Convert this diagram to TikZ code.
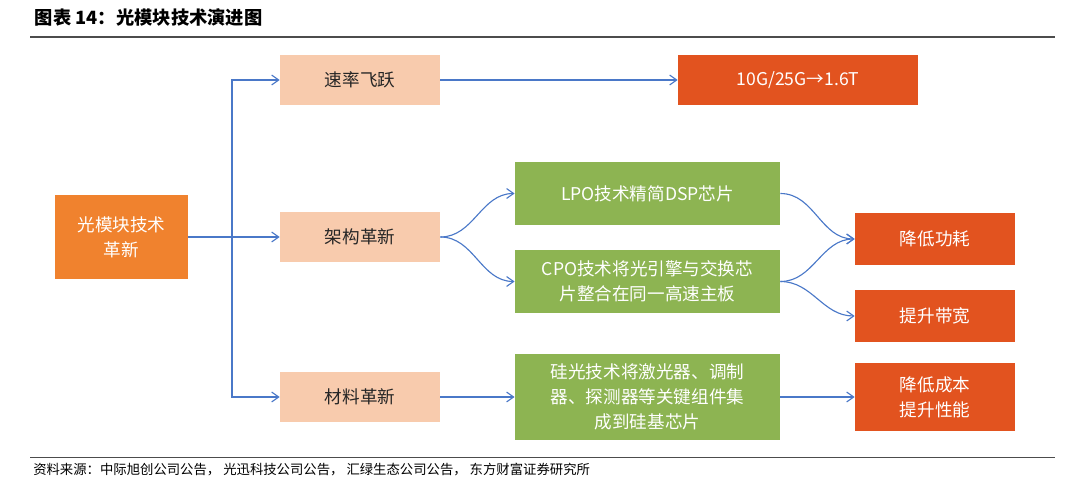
\documentclass[tikz,border=0pt]{standalone}
\usepackage{fontspec}
\setmainfont{Noto Sans CJK SC}
\usetikzlibrary{positioning,arrows.meta}
\definecolor{orangeA}{HTML}{F0822E}
\definecolor{peach}{HTML}{F8CBAD}
\definecolor{redA}{HTML}{E2531F}
\definecolor{greenA}{HTML}{8DB452}
\definecolor{blueA}{HTML}{4A78C8}
\begin{document}
\begin{tikzpicture}[x=0.025cm,y=-0.025cm,
    box/.style={rectangle, minimum width=4cm, minimum height=1.25cm, align=center, font=\fontsize{12.5}{18}\selectfont},
    root/.style={box, fill=orangeA, text=white, minimum width=3.33cm, minimum height=2.08cm},
    stage/.style={box, fill=peach, text=black!85},
    goal/.style={box, fill=redA, text=white},
    tech/.style={box, fill=greenA, text=white, minimum width=6.63cm, minimum height=1.58cm},
    arrow/.style={-{Straight Barb[length=5pt,width=7pt]}, draw=blueA, thick}
]
    \useasboundingbox (0,0) rectangle (1080,491);
    % title and rules
    \node[anchor=west, font=\bfseries\fontsize{13}{15}\selectfont] (title) at (30,18) {图表 14：光模块技术演进图};
    \draw[black!70, line width=0.8pt] (30,37) -- (1055,37);
    \draw[black!70, line width=0.6pt] (30,457) -- (1055,457);
    \node[anchor=west, font=\fontsize{9.5}{11}\selectfont, inner xsep=0pt] (source) at (33,470) {资料来源：中际旭创公司公告，\ 光迅科技公司公告，\ 汇绿生态公司公告，\ 东方财富证券研究所};

    \node[root] (root) at (121.5,237) {光模块技术\\革新};
    \node[stage] (speed) at (360,80) {速率飞跃};
    \node[stage] (arch) at (360,237) {架构革新};
    \node[stage] (mat) at (360,397) {材料革新};
    \node[goal, minimum width=6cm] (rate) at (798,80) {10G/25G→1.6T};
    \node[tech] (lpo) at (647.5,193.5) {LPO技术精简DSP芯片};
    \node[tech] (cpo) at (647.5,281.5) {CPO技术将光引擎与交换芯\\片整合在同一高速主板};
    \node[tech, minimum height=2.13cm] (sipho) at (647.5,397) {硅光技术将激光器、调制\\器、探测器等关键组件集\\成到硅基芯片};
    \node[goal, minimum height=1.3cm] (power) at (935,239) {降低功耗};
    \node[goal, minimum height=1.3cm] (band) at (935,316) {提升带宽};
    \node[goal, minimum height=1.7cm] (cost) at (935,397) {降低成本\\提升性能};

    \coordinate (fork) at (232,237);
    \draw[blueA, thick] (root.east) -- (fork);
    \draw[arrow] (fork) |- (speed.west);
    \draw[arrow] (fork) -- (arch.west);
    \draw[arrow] (fork) |- (mat.west);
    \draw[arrow] (speed) -- (rate);
    \draw[arrow] (arch.east) to[out=0, in=180] (lpo.west);
    \draw[arrow] (arch.east) to[out=0, in=180] (cpo.west);
    \draw[arrow] (lpo.east) to[out=0, in=180] (power.west);
    \draw[arrow] (cpo.east) to[out=0, in=180] (power.west);
    \draw[arrow] (cpo.east) to[out=0, in=180] (band.west);
    \draw[arrow] (mat) -- (sipho);
    \draw[arrow] (sipho) -- (cost);
\end{tikzpicture}
\end{document}
